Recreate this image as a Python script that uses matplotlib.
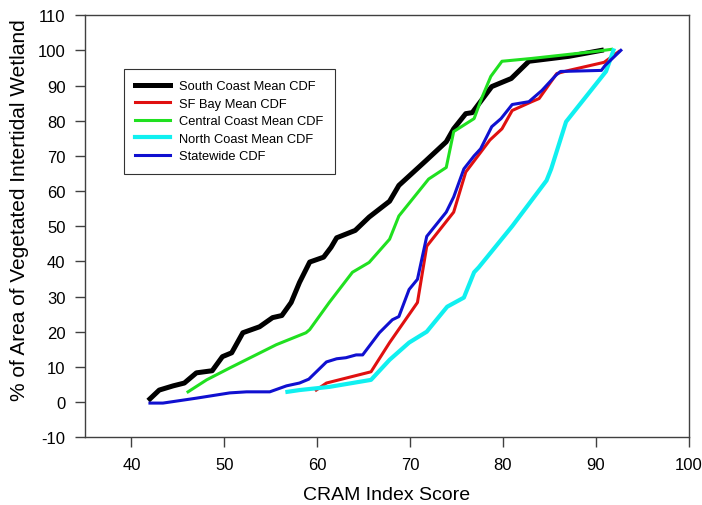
import numpy as np
import matplotlib
matplotlib.use('Agg')
import matplotlib.pyplot as plt

plt.rcParams['font.family'] = ['Liberation Sans', 'DejaVu Sans']
plt.rcParams['axes.unicode_minus'] = False

# South Coast mean CDF
south_x = [42, 43, 44.5, 45.7, 47, 48.7, 49.8, 50.8, 52, 53.8, 55.2, 56.2, 57.2, 58.1, 59.2,
           60.7, 61.5, 62.1, 64.1, 65.6, 67.8, 68.8, 71.7, 73.9, 74.7, 76, 76.7, 78.8, 80.9,
           82.8, 87.1, 90.6]
south_y = [0.9, 3.4, 4.6, 5.4, 8.3, 8.9, 12.9, 14, 19.7, 21.4, 24, 24.6, 28.3, 34, 39.8,
           41.2, 44, 46.7, 48.8, 52.6, 57.1, 61.6, 68.6, 74, 77.7, 82, 82.3, 89.7, 92,
           96.9, 98.3, 100]

# SF Bay mean CDF
sfbay_x = [59.9, 61, 65.8, 67.8, 70.8, 71.8, 74.7, 76, 78.6, 79.9, 81, 83.1, 83.9, 85.8,
           87.1, 90.9, 92.5]
sfbay_y = [3.4, 5.4, 8.6, 16.9, 28.3, 44.3, 54, 65.4, 74.5, 77.7, 82.9, 85.4, 86.3, 93.4,
           94.3, 96.6, 99.7]

# Central Coast mean CDF
central_x = [46.1, 48.1, 50.6, 55.6, 58.8, 59.2, 61.3, 63.8, 65.6, 67.8, 68.8, 72, 73.9,
             74.7, 76.9, 77.7, 78.7, 79.9, 83.1, 90, 91.7]
central_y = [2.9, 6.3, 9.7, 16.3, 19.7, 20.6, 28.3, 36.9, 39.7, 46.3, 52.9, 63.4, 66.7,
             76.9, 80.6, 86.3, 92.6, 96.9, 97.7, 99.7, 100.3]

# North Coast mean CDF
north_x = [56.8, 58.1, 61.3, 65.8, 67.8, 69.9, 71.8, 74, 75.8, 76.9, 77.4, 81, 84.7, 85.2,
           86.8, 91.1, 91.6, 91.9]
north_y = [2.9, 3.4, 4.3, 6.3, 12, 16.9, 20, 27.1, 29.7, 36.9, 38.3, 50, 63, 66.3,
           79.7, 94, 97.7, 100]

# Statewide CDF
state_x = [42, 43.4, 47, 50.6, 52.4, 54.9, 56.7, 58.1, 59.1, 61, 62.1, 63.1, 64.2, 64.9,
           66.7, 68.1, 68.8, 69.9, 70.8, 71.8, 73.9, 74.7, 75.8, 76.9, 77.6, 78.8, 79.8,
           81, 82.8, 84.2, 85.7, 86.2, 90.6, 91, 92.7]
state_y = [-0.3, -0.3, 1.1, 2.6, 2.9, 2.9, 4.6, 5.4, 6.5, 11.4, 12.3, 12.6, 13.4, 13.4,
           19.7, 23.4, 24.3, 32, 34.9, 47.1, 54, 58.3, 66.3, 70, 72, 78.3, 80.6,
           84.6, 85.4, 88.6, 92.9, 94, 94.3, 95.7, 100]

fig = plt.figure(figsize=(7.02, 5.06), dpi=100)
ax = fig.add_axes([0.121, 0.134, 0.860, 0.834])

ax.plot(south_x, south_y, color='black', lw=3.6, label='South Coast Mean CDF')
ax.plot(sfbay_x, sfbay_y, color='#e01010', lw=2.2, label='SF Bay Mean CDF')
ax.plot(central_x, central_y, color='#20e020', lw=2.2, label='Central Coast Mean CDF')
ax.plot(north_x, north_y, color='#10f0f0', lw=3.0, label='North Coast Mean CDF')
ax.plot(state_x, state_y, color='#1010d0', lw=2.2, label='Statewide CDF')

ax.set_xlim(35, 100)
ax.set_ylim(-10, 110)
ax.set_xticks(np.arange(40, 101, 10))
ax.set_yticks(np.arange(-10, 111, 10))
ax.tick_params(axis='both', direction='out', length=7, width=1, labelsize=12,
               color='#404040', pad=7)
for s in ax.spines.values():
    s.set_color('#404040')
    s.set_linewidth(1)

ax.set_xlabel('CRAM Index Score', fontsize=14, labelpad=10)
ax.set_ylabel('% of Area of Vegetated Intertidal Wetland', fontsize=15)
ax.yaxis.set_label_coords(-0.092, 0.54)

leg = ax.legend(loc='upper left', bbox_to_anchor=(0.064, 0.873), fontsize=9.3,
                frameon=True, fancybox=False, edgecolor='black', handlelength=2.7,
                labelspacing=0.42, borderpad=0.9, handletextpad=0.7, borderaxespad=0)
leg.get_frame().set_linewidth(0.8)

fig.savefig('out.png', dpi=100)
